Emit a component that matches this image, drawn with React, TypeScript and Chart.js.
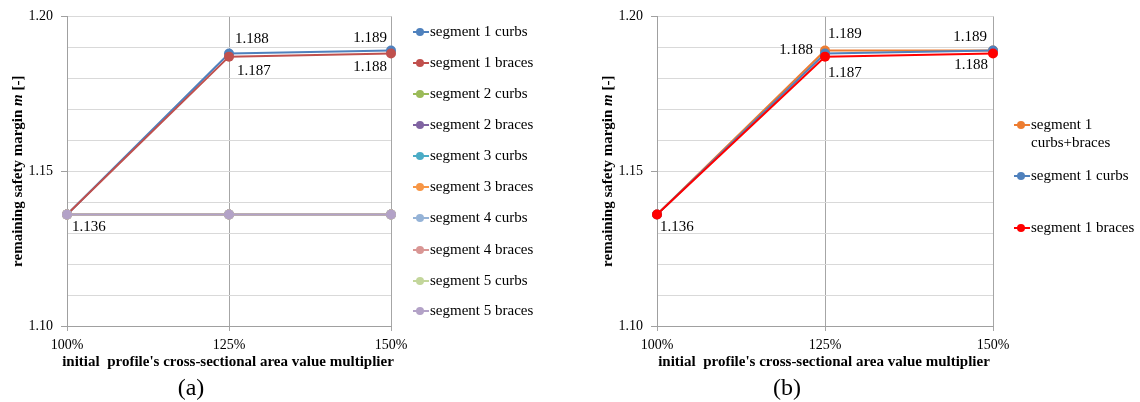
import React, { useEffect, useRef } from 'react';
import { Chart, registerables } from 'chart.js';

Chart.register(...registerables);

// ---------- data ----------
const categories = ['100%', '125%', '150%'];

const seg1Curbs = [1.136, 1.188, 1.189];
const seg1Braces = [1.136, 1.187, 1.188];
const seg2Curbs = [1.136, 1.136, 1.136];
const seg2Braces = [1.136, 1.136, 1.136];
const seg3Curbs = [1.136, 1.136, 1.136];
const seg3Braces = [1.136, 1.136, 1.136];
const seg4Curbs = [1.136, 1.136, 1.136];
const seg4Braces = [1.136, 1.136, 1.136];
const seg5Curbs = [1.136, 1.136, 1.136];
const seg5Braces = [1.136, 1.136, 1.136];
const seg1CurbsBraces = [1.136, 1.189, 1.189];

const seriesNamesA = [
  'segment 1 curbs', 'segment 1 braces', 'segment 2 curbs', 'segment 2 braces',
  'segment 3 curbs', 'segment 3 braces', 'segment 4 curbs', 'segment 4 braces',
  'segment 5 curbs', 'segment 5 braces',
];
const seriesValuesA = [
  seg1Curbs, seg1Braces, seg2Curbs, seg2Braces, seg3Curbs,
  seg3Braces, seg4Curbs, seg4Braces, seg5Curbs, seg5Braces,
];
const seriesNamesB = ['segment 1 curbs+braces', 'segment 1 curbs', 'segment 1 braces'];
const seriesValuesB = [seg1CurbsBraces, seg1Curbs, seg1Braces];

const yMin = 1.10;
const yMax = 1.20;
const yStep = 0.01;
const yLabelEvery = 0.05;

const xTitle = "initial  profile's cross-sectional area value multiplier";
const yTitleParts = [
  { text: 'remaining safety margin ', italic: false },
  { text: 'm', italic: true },
  { text: ' [-]', italic: false },
];

// ---------- styles ----------
const colorsA = [
  '#4F81BD', '#C0504D', '#9BBB59', '#8064A2', '#4BACC6',
  '#F79646', '#95B3D7', '#D99694', '#C3D69B', '#B3A2C7',
];
const colorsB = ['#ED7D31', '#4F81BD', '#FF0000'];

const FAMILY = "'Liberation Serif', 'Times New Roman', serif";

type LabelSpec = { ds: number; idx: number; align: CanvasTextAlign; dx: number; dy: number };

const labelsA: LabelSpec[] = [
  { ds: 0, idx: 1, align: 'left', dx: 6, dy: -14 },
  { ds: 1, idx: 1, align: 'left', dx: 8, dy: 14 },
  { ds: 0, idx: 2, align: 'right', dx: -4, dy: -12 },
  { ds: 1, idx: 2, align: 'right', dx: -4, dy: 14 },
  { ds: 9, idx: 0, align: 'left', dx: 5, dy: 13 },
];
const labelsB: LabelSpec[] = [
  { ds: 1, idx: 1, align: 'right', dx: -12, dy: -3 },
  { ds: 0, idx: 1, align: 'left', dx: 3, dy: -16 },
  { ds: 2, idx: 1, align: 'left', dx: 3, dy: 16 },
  { ds: 0, idx: 2, align: 'right', dx: -6, dy: -13 },
  { ds: 2, idx: 2, align: 'right', dx: -5, dy: 12 },
  { ds: 2, idx: 0, align: 'left', dx: 3, dy: 13 },
];

type PanelCfg = {
  names: string[];
  values: number[][];
  colors: string[];
  labels: LabelSpec[];
  caption: string;
  yAxisWidth: number;
  paddingRight: number;
  yTitleX: number;
  legendX: number;
  legendRows: number[];
  legendMaxWidth: number;
};

const panelA: PanelCfg = {
  names: seriesNamesA,
  values: seriesValuesA,
  colors: colorsA,
  labels: labelsA,
  caption: '(a)',
  yAxisWidth: 67,
  paddingRight: 179,
  yTitleX: 18,
  legendX: 413,
  legendRows: [32, 63, 94, 125, 156, 187, 218, 250, 281, 311],
  legendMaxWidth: 140,
};

const panelB: PanelCfg = {
  names: seriesNamesB,
  values: seriesValuesB,
  colors: colorsB,
  labels: labelsB,
  caption: '(b)',
  yAxisWidth: 87,
  paddingRight: 147,
  yTitleX: 38,
  legendX: 444,
  legendRows: [125, 176, 228],
  legendMaxWidth: 108,
};

function wrapText(ctx: CanvasRenderingContext2D, text: string, maxW: number): string[] {
  const words = text.split(' ');
  const lines: string[] = [];
  let cur = '';
  for (const w of words) {
    const test = cur ? cur + ' ' + w : w;
    if (ctx.measureText(test).width > maxW && cur) {
      lines.push(cur);
      cur = w;
    } else {
      cur = test;
    }
  }
  if (cur) lines.push(cur);
  return lines;
}

function makePlugin(cfg: PanelCfg) {
  return {
    id: 'decor',
    afterDatasetsDraw(chart: any) {
      const ctx: CanvasRenderingContext2D = chart.ctx;
      ctx.save();
      ctx.font = `15px ${FAMILY}`;
      ctx.fillStyle = '#000';
      ctx.textBaseline = 'middle';
      for (const l of cfg.labels) {
        const pt = chart.getDatasetMeta(l.ds).data[l.idx];
        const v = chart.data.datasets[l.ds].data[l.idx] as number;
        ctx.textAlign = l.align;
        ctx.fillText(v.toFixed(3), pt.x + l.dx, pt.y + l.dy);
      }
      ctx.restore();
    },
    afterDraw(chart: any) {
      const ctx: CanvasRenderingContext2D = chart.ctx;
      const area = chart.chartArea;
      const cx = (area.left + area.right) / 2;
      ctx.save();
      ctx.fillStyle = '#000';
      // x title
      ctx.font = `bold 15px ${FAMILY}`;
      ctx.textAlign = 'center';
      ctx.textBaseline = 'middle';
      ctx.fillText(xTitle, cx - 1, 362);
      // caption
      ctx.font = `24px ${FAMILY}`;
      ctx.fillText(cfg.caption, cx - 38, 389);
      // y title (mixed fonts)
      const cy = (area.top + area.bottom) / 2;
      ctx.translate(cfg.yTitleX, cy);
      ctx.rotate(-Math.PI / 2);
      ctx.textAlign = 'left';
      const fonts = yTitleParts.map(p => (p.italic ? `italic bold 15px ${FAMILY}` : `bold 15px ${FAMILY}`));
      let total = 0;
      const widths = yTitleParts.map((p, i) => {
        ctx.font = fonts[i];
        const w = ctx.measureText(p.text).width;
        total += w;
        return w;
      });
      let x = -total / 2;
      yTitleParts.forEach((p, i) => {
        ctx.font = fonts[i];
        ctx.fillText(p.text, x, 0);
        x += widths[i];
      });
      ctx.restore();

      // legend
      ctx.save();
      ctx.font = `15px ${FAMILY}`;
      ctx.textBaseline = 'middle';
      ctx.textAlign = 'left';
      chart.data.datasets.forEach((ds: any, i: number) => {
        const y = cfg.legendRows[i];
        const x0 = cfg.legendX;
        ctx.strokeStyle = ds.borderColor;
        ctx.lineWidth = 2;
        ctx.beginPath();
        ctx.moveTo(x0, y);
        ctx.lineTo(x0 + 16, y);
        ctx.stroke();
        ctx.fillStyle = ds.backgroundColor;
        ctx.beginPath();
        ctx.arc(x0 + 7, y, 4, 0, Math.PI * 2);
        ctx.fill();
        ctx.fillStyle = '#000';
        const lines = wrapText(ctx, ds.label, cfg.legendMaxWidth);
        lines.forEach((ln, k) => ctx.fillText(ln, x0 + 17, y + k * 18));
      });
      ctx.restore();
    },
  };
}

function isMajor(v: number) {
  const r = Math.round((v - yMin) / yStep);
  const every = Math.round(yLabelEvery / yStep);
  return r % every === 0;
}

function Panel({ cfg, left }: { cfg: PanelCfg; left: number }) {
  const ref = useRef<HTMLCanvasElement | null>(null);
  useEffect(() => {
    if (!ref.current) return;
    const n = cfg.values.length;
    const chart = new Chart(ref.current, {
      type: 'line',
      data: {
        labels: categories,
        datasets: cfg.values.map((vals, i) => ({
          label: cfg.names[i],
          data: vals,
          borderColor: cfg.colors[i],
          backgroundColor: cfg.colors[i],
          pointBackgroundColor: cfg.colors[i],
          pointBorderColor: cfg.colors[i],
          pointRadius: 5,
          pointBorderWidth: 0,
          borderWidth: 2,
          tension: 0,
          order: n - 1 - i,
        })),
      },
      options: {
        responsive: false,
        animation: false,
        devicePixelRatio: 1,
        layout: { padding: { left: 0, right: cfg.paddingRight, top: 16, bottom: 0 } },
        plugins: {
          legend: { display: false },
          tooltip: { enabled: false },
          title: { display: false },
        },
        scales: {
          x: {
            type: 'category',
            offset: false,
            grid: { color: '#A6A6A6', tickColor: '#A6A6A6', tickLength: 5, lineWidth: 1 },
            border: { color: '#A0A0A0' },
            ticks: {
              font: { family: FAMILY, size: 14 },
              color: '#000',
              padding: 6,
              maxRotation: 0,
              autoSkip: false,
            },
            afterFit: (scale: any) => { scale.height = 76; },
          },
          y: {
            type: 'linear',
            min: yMin,
            max: yMax,
            grid: {
              color: '#D9D9D9',
              tickLength: 6,
              tickColor: (c: any) => (c.tick && isMajor(c.tick.value) ? '#A0A0A0' : 'rgba(0,0,0,0)'),
            },
            border: { color: '#A0A0A0' },
            ticks: {
              stepSize: yStep,
              autoSkip: false,
              padding: 8,
              font: { family: FAMILY, size: 14 },
              color: '#000',
              callback: (v: any) => (isMajor(Number(v)) ? Number(v).toFixed(2) : ''),
            },
            afterFit: (scale: any) => { scale.width = cfg.yAxisWidth; },
          },
        },
      },
      plugins: [makePlugin(cfg)],
    } as any);
    return () => chart.destroy();
  }, [cfg]);
  return (
    <canvas
      ref={ref}
      width={570}
      height={402}
      style={{ position: 'absolute', left, top: 0, width: 570, height: 402 }}
    />
  );
}

export default function App() {
  return (
    <div style={{ position: 'absolute', left: 0, top: 0, width: 1140, height: 402, background: '#fff' }}>
      <Panel cfg={panelA} left={0} />
      <Panel cfg={panelB} left={570} />
    </div>
  );
}
